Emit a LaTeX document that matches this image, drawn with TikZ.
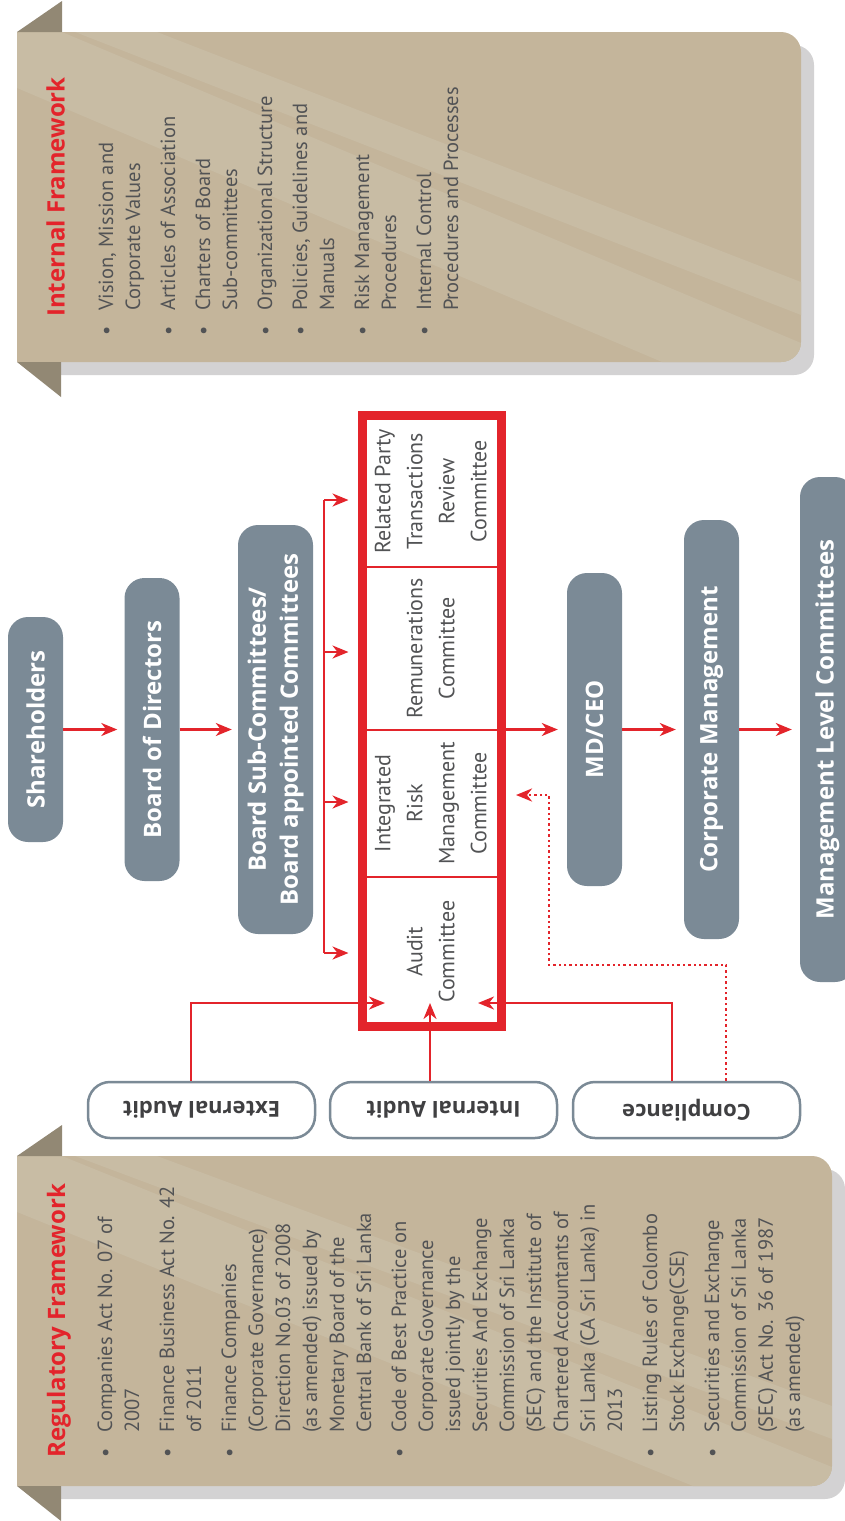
\documentclass[tikz,border=0pt]{standalone}
\usepackage{fontspec}
\usepackage{graphicx}
\setmainfont{PT Sans}
\newfontfamily\heavyfont{Open Sans}
\usetikzlibrary{arrows.meta}

\definecolor{tan}{HTML}{C4B59B}
\definecolor{tanlight}{HTML}{C8BCA4}
\definecolor{foldtan}{HTML}{928874}
\definecolor{shadowgray}{HTML}{D3D2D3}
\definecolor{slate}{HTML}{7B8A96}
\definecolor{govred}{HTML}{E3242B}
\definecolor{ink}{HTML}{525355}
\definecolor{darkink}{HTML}{404042}

% bulleted entry with a hanging bullet
\newcommand\bitem[1]{\par\noindent\llap{\textbullet\hspace{15pt}}#1}
\newcommand\listfont{\fontsize{20.5}{27}\selectfont}

% folded ribbon panel: #1 vertical offset, #2 right edge
\newcommand\ribbon[2]{%
  \begin{scope}[shift={(0,#1)}]
    \fill[shadowgray, rounded corners=20pt] (40,45) rectangle (#2+13,375);
    \fill[tan, rounded corners=20pt] (17,32) rectangle (#2,362);
    \fill[tan] (17,32) rectangle (120,362);
    \begin{scope}
      \clip[rounded corners=20pt] (0,32) rectangle (#2,362);
      \fill[tanlight] (157,32) -- (#2,282) -- (#2,315) -- (75,32) -- cycle;
      \fill[tanlight] (17,32) -- (62,32) -- (#2,343) -- (#2,370) -- (#2-139,362) -- (17,88) -- cycle;
    \end{scope}
    \fill[foldtan] (17,32) -- (62,1) -- (62,32) -- cycle;
    \fill[foldtan] (17,362) -- (61,362) -- (61,397) -- cycle;
  \end{scope}}

\begin{document}
\begin{tikzpicture}[x=1pt,y=-1pt,
  pill/.style={fill=slate, rounded corners=20pt, inner sep=0pt, minimum width=55pt,
    text=white, font=\heavyfont\bfseries\fontsize{24}{32}\selectfont},
  cell/.style={draw=govred, line width=2.5pt, minimum width=139pt, inner sep=0pt,
    text=ink, font=\fontsize{22}{32}\selectfont},
  auditbox/.style={draw=slate, line width=2.5pt, fill=white, rounded corners=22pt,
    minimum width=227pt, minimum height=56pt, inner sep=0pt,
    text=darkink, font=\heavyfont\bfseries\fontsize{22}{26}\selectfont},
  link/.style={draw=govred, line width=2.3pt},
  arr/.style={link, -{Stealth[length=16pt,width=13pt,inset=5pt]}},
  dotlink/.style={arr, line width=2.6pt, dash pattern=on 2.4pt off 3pt},
  bannertext/.style={rotate=90, anchor=base west, inner sep=0pt},
  titletext/.style={bannertext, text=govred, font=\heavyfont\bfseries\fontsize{24}{28}\selectfont}]

\useasboundingbox (0,0) rectangle (844,1521);

% ---------- framework ribbons ----------
\ribbon{0}{801}
\ribbon{1124}{832}

\node[titletext] (inttitle) at (64.5,317) {Internal Framework};
\node[bannertext, text=ink] (intlist) at (113,311) {\begin{minipage}[t]{330pt}\listfont\raggedright\setlength{\parskip}{8pt}%
\bitem{Vision, Mission and\\Corporate Values}
\bitem{Articles of Association}
\bitem{Charters of Board\\Sub-committees}
\bitem{Organizational Structure}
\bitem{Policies, Guidelines and\\Manuals}
\bitem{Risk Management\\Procedures}
\bitem{Internal Control\\Procedures and Processes}
\end{minipage}};

\node[titletext] (regtitle) at (65,1458) {Regulatory Framework};
\node[bannertext, text=ink] (reglist) at (112,1433) {\begin{minipage}[t]{330pt}\listfont\raggedright\setlength{\parskip}{8pt}%
\bitem{Companies Act No. 07 of\\2007}
\bitem{Finance Business Act No. 42\\of 2011}
\bitem{Finance Companies\\(Corporate Governance)\\Direction No.03 of 2008\\(as amended) issued by\\Monetary Board of the\\Central Bank of Sri Lanka}
\bitem{Code of Best Practice on\\Corporate Governance\\issued jointly by the\\Securities And Exchange\\Commission of Sri Lanka\\(SEC) and the Institute of\\Chartered Accountants of\\Sri Lanka (CA Sri Lanka) in\\2013}
\bitem{Listing Rules of Colombo\\Stock Exchange(CSE)}
\bitem{Securities and Exchange\\Commission of Sri Lanka\\(SEC) Act No. 36 of 1987\\(as amended)}
\end{minipage}};

% ---------- governance chain ----------
\node[pill, minimum height=225pt] (sh) at (35.5,729.5) {\rotatebox{90}{Shareholders}};
\node[pill, minimum height=303pt] (bod) at (152,729.5) {\rotatebox{90}{Board of Directors}};
\node[pill, minimum width=75pt, minimum height=409pt] (bsc) at (275.5,729.5)
  {\rotatebox{90}{\begin{tabular}{@{}c@{}}Board Sub-Committees/\\Board appointed Committees\end{tabular}}};
\node[pill, minimum height=313pt] (md) at (594.5,729.5) {\rotatebox{90}{MD/CEO}};
\node[pill, minimum height=419pt] (cm) at (711.5,729.5) {\rotatebox{90}{Corporate Management}};
\node[pill, minimum height=505pt] (mlc) at (827.5,729.5) {\rotatebox{90}{Management Level Committees}};

% ---------- board committees ----------
\node[cell, minimum height=151.5pt] (rpt) at (432,491.25)
  {\rotatebox{90}{\begin{tabular}{@{}c@{}}Related Party\\Transactions\\Review\\Committee\end{tabular}}};
\node[cell, minimum height=163pt] (rem) at (432,648.5)
  {\rotatebox{90}{\begin{tabular}{@{}c@{}}Remunerations\\Committee\end{tabular}}};
\node[cell, minimum height=147pt] (irm) at (432,803.5)
  {\rotatebox{90}{\begin{tabular}{@{}c@{}}Integrated\\Risk\\Management\\Committee\end{tabular}}};
\node[cell, minimum height=149.5pt] (aud) at (432,951.75)
  {\rotatebox{90}{\begin{tabular}{@{}c@{}}Audit\\Committee\end{tabular}}};
\node[draw=govred, line width=9pt, minimum width=139pt, minimum height=611pt, inner sep=0pt] (frame) at (432,721) {};

% ---------- assurance functions ----------
\node[auditbox] (ext) at (201.5,1110) {\rotatebox{180}{External Audit}};
\node[auditbox] (ia) at (443.5,1110) {\rotatebox{180}{Internal Audit}};
\node[auditbox] (cmp) at (686.5,1110) {\rotatebox{180}{Compliance}};

% ---------- connectors ----------
\draw[arr, shorten >=7pt] (sh.east) -- (bod.west);
\draw[arr, shorten >=6pt] (bod.east) -- (bsc.west);

\coordinate (b1) at (324,500);
\coordinate (b2) at (324,652);
\coordinate (b3) at (324,802);
\coordinate (b4) at (324,953);
\draw[link] (b1) -- (b4);
\foreach \b in {b1,b2,b3,b4}
  \draw[arr, shorten >=9.5pt] (\b) -- (\b -| frame.west);

\draw[arr, shorten >=9pt] (frame.east |- md.west) -- (md.west);
\draw[arr, shorten >=8pt] (md.east) -- (cm.west);
\draw[arr, shorten >=8pt] (cm.east) -- (mlc.west);

\coordinate (audL) at (385,1003);
\coordinate (audB) at (430,1003);
\coordinate (audR) at (478,1003);
\coordinate (irmIn) at (516,795);
\draw[arr] (ext.north -| 191,0) |- (audL);
\draw[arr] (ia.north -| audB) -- (audB);
\draw[arr] (cmp.north -| 672,0) |- (audR);
\draw[dotlink] (cmp.north -| 726,0) |- (549,965) |- (irmIn);

\end{tikzpicture}
\end{document}
